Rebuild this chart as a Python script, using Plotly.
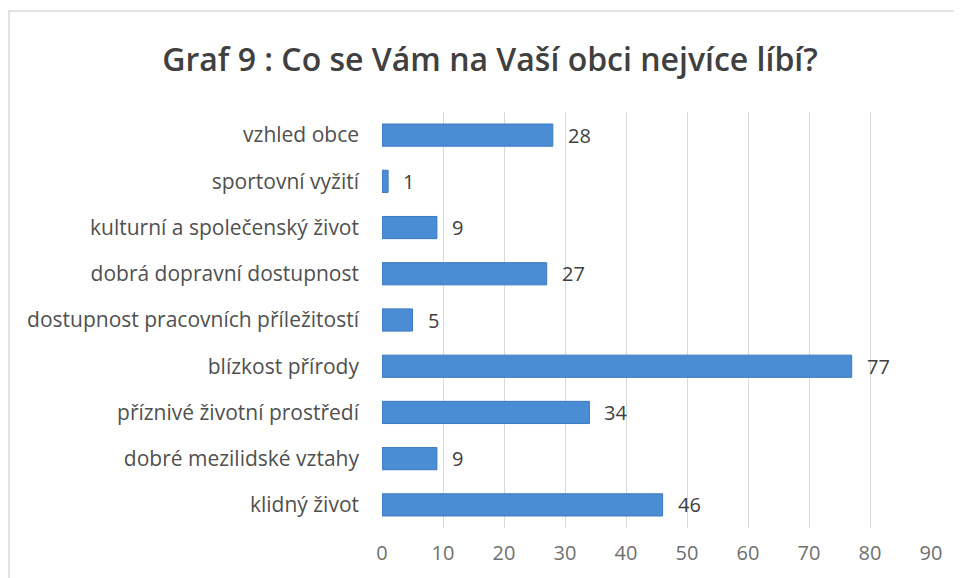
import plotly.graph_objects as go

categories = ["vzhled obce", "sportovní vyžití", "kulturní a společenský život",
              "dobrá dopravní dostupnost", "dostupnost pracovních příležitostí",
              "blízkost přírody", "příznivé životní prostředí",
              "dobré mezilidské vztahy", "klidný život"]
values = [28, 1, 9, 27, 5, 77, 34, 9, 46]
x_ticks = [0, 10, 20, 30, 40, 50, 60, 70, 80, 90]
title = "Graf 9 : Co se Vám na Vaší obci nejvíce líbí?"

font_family = "Open Sans, Noto Sans, sans-serif"

# The page body has an 8px default margin; figure geometry compensates for it.
W, H = 954, 570
L, R, T, B = 374, 31, 104, 50
PW, PH = W - L - R, H - T - B

fig = go.Figure(go.Bar(
    y=categories,
    x=values,
    orientation="h",
    marker=dict(color="#4A8DD5", line=dict(color="#3C79BE", width=1)),
    hoverinfo="x+y",
))

annotations = [
    dict(x=v, y=c, xref="x", yref="y", text=str(v), showarrow=False,
         xanchor="left", yanchor="middle", xshift=13,
         font=dict(size=20, color="#404040", family=font_family))
    for c, v in zip(categories, values)
]

fig.update_layout(
    width=W, height=H,
    margin=dict(l=L, r=R, t=T, b=B, autoexpand=False),
    paper_bgcolor="white",
    plot_bgcolor="white",
    bargap=0.52,
    showlegend=False,
    title=dict(text=title, x=482 / W, xanchor="center", y=1 - 52 / H, yanchor="middle",
               font=dict(size=32, color="#404040", family=font_family, weight=600)),
    font=dict(family=font_family),
    annotations=annotations,
    shapes=[
        dict(type="line", xref="paper", yref="paper",
             x0=-L / PW, x1=1 + R / PW, y0=1 + (T - 3) / PH, y1=1 + (T - 3) / PH,
             line=dict(color="#d9d9d9", width=1.5), layer="below"),
        dict(type="line", xref="paper", yref="paper",
             x0=-(L - 1) / PW, x1=-(L - 1) / PW, y0=1 + (T - 3) / PH, y1=-B / PH,
             line=dict(color="#d9d9d9", width=1.5), layer="below"),
    ],
)

fig.update_xaxes(
    range=[0, 90],
    tickvals=x_ticks,
    ticktext=[str(t) for t in x_ticks],
    showgrid=True, gridcolor="#d9d9d9", gridwidth=1,
    zeroline=False, showline=False, automargin=False,
    tickfont=dict(size=20, color="#707070", family=font_family),
    ticks="", ticklabelstandoff=11,
)
fig.update_yaxes(
    categoryorder="array",
    categoryarray=categories[::-1],
    showgrid=False, zeroline=False, showline=False, automargin=False,
    tickfont=dict(size=21, color="#505050", family=font_family),
    ticks="", ticklabelstandoff=22,
)

fig.write_html("out.html")
